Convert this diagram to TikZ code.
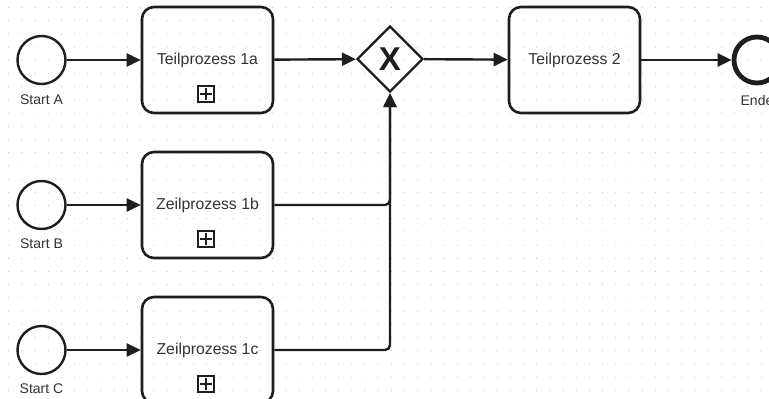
\documentclass[tikz,border=0pt]{standalone}
\usepackage{fontspec}
\setmainfont{Liberation Sans}
\usetikzlibrary{arrows.meta,shapes.geometric,calc}
\definecolor{ink}{HTML}{1E1E1E}
\definecolor{txt}{HTML}{333333}
\definecolor{griddot}{HTML}{C8C8C8}
\tikzset{
  flow/.style={line width=2.4pt,draw=ink,-{Triangle[length=14pt,width=13pt]},rounded corners=5pt},
  startev/.style={circle,draw=ink,line width=2.4pt,minimum size=48pt,inner sep=0pt},
  endev/.style={circle,draw=ink,line width=4.8pt,minimum size=46pt,inner sep=0pt},
  evlabel/.style={text=txt,font=\fontsize{14}{16}\selectfont,inner sep=0pt},
  taskbox/.style={draw=ink,line width=2.6pt,rounded corners=12pt,minimum width=131pt,minimum height=106pt,inner sep=0pt,text=txt,font=\fontsize{15.8}{18}\selectfont},
  submark/.style={draw=ink,line width=1.4pt,minimum size=16pt,inner sep=0pt},
  gwbox/.style={diamond,draw=ink,line width=2.4pt,minimum width=66pt,minimum height=66pt,inner sep=0pt,aspect=1}
}
\begin{document}
\begin{tikzpicture}[x=1pt,y=-1pt]
\useasboundingbox (0,0) rectangle (769,399);
\clip (0,0) rectangle (769,399);
\fill[white] (0,0) rectangle (769,399);
% dotted grid
\foreach \i in {0,...,57}{
  \foreach \j in {0,...,30}{
    \fill[griddot] ({8.6+13.2*\i},{7.5+13.2*\j}) circle (0.6pt);
  }
}
% start events
\node[startev] (sa) at (41.5,60) {};
\node[startev] (sb) at (41.5,205) {};
\node[startev] (sc) at (41.5,350) {};
\node[evlabel] (la) at (41.5,100) {Start A};
\node[evlabel] (lb) at (41.5,244) {Start B};
\node[evlabel] (lc) at (41.5,389) {Start C};
% tasks
\node[taskbox] (t1a) at (207.5,60) {Teilprozess 1a};
\node[taskbox] (t1b) at (207.5,205) {Zeilprozess 1b};
\node[taskbox] (t1c) at (207.5,350) {Zeilprozess 1c};
\node[taskbox] (t2) at (574.5,60) {Teilprozess 2};
% subprocess markers
\foreach \t/\y in {ma/94,mb/239,mc/384}{
  \node[submark] (\t) at (206,\y) {};
  \draw[ink,line width=2.4pt] ($(\t.north)+(0,2.5)$) -- ($(\t.south)+(0,-2.5)$);
  \draw[ink,line width=2.4pt] ($(\t.west)+(2.5,0)$) -- ($(\t.east)+(-2.5,0)$);
}
% gateway
\node[gwbox] (gw) at (390,59) {};
\node[text=ink,inner sep=0pt,font=\fontsize{33}{33}\selectfont\bfseries] (gx) at (gw.center) {X};
% end event
\node[endev] (en) at (757,60) {};
\node[evlabel] (le) at (757,100) {Ende};
% flows
\draw[flow] (sa) -- (t1a);
\draw[flow] (sb) -- (t1b);
\draw[flow] (sc) -- (t1c);
\draw[flow] (t1a) -- (gw);
\draw[flow] (t1b.east) -| (gw.south);
\draw[flow] (t1c.east) -| (gw.south);
\draw[flow] (gw) -- (t2);
\draw[flow] (t2) -- (en);
\end{tikzpicture}
\end{document}
